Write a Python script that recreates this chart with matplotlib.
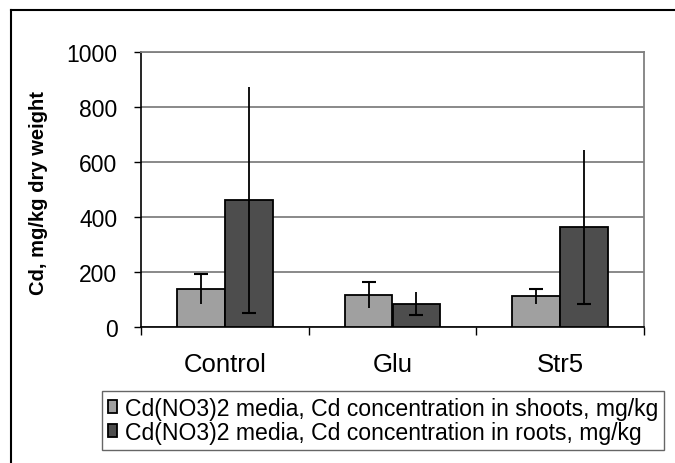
import matplotlib.pyplot as plt
import numpy as np
from matplotlib.lines import Line2D

plt.rcParams["font.family"] = ["Liberation Sans", "DejaVu Sans"]

categories = ["Control", "Glu", "Str5"]
shoots = np.array([140, 118, 112])
shoots_err = np.array([55, 48, 28])
roots = np.array([461, 86, 364])
roots_err = np.array([410, 42, 280])

labels = [
    "Cd(NO3)2 media, Cd concentration in shoots, mg/kg",
    "Cd(NO3)2 media, Cd concentration in roots, mg/kg",
]

fig = plt.figure(figsize=(6.75, 4.64), dpi=100)
ax = fig.add_axes([141 / 675, 1 - 328.3 / 464, 503 / 675, 275.6 / 464])

x = np.arange(len(categories))
w = 0.285
b1 = ax.bar(x - w / 2, shoots, w, color="#a0a0a0", edgecolor="black", linewidth=1.3, label=labels[0], zorder=3)
b2 = ax.bar(x + w / 2, roots, w, color="#4d4d4d", edgecolor="black", linewidth=1.3, label=labels[1], zorder=3)

# error bars: shoots capped on top, roots capped at bottom
ax.errorbar(x - w / 2, shoots, yerr=shoots_err, fmt="none", ecolor="black", elinewidth=1.3, capsize=0, zorder=4)
ax.plot(x - w / 2, shoots + shoots_err, ls="none", marker="_", ms=9.5, mew=1.5, color="black", zorder=4)
ax.errorbar(x + w / 2, roots, yerr=roots_err, fmt="none", ecolor="black", elinewidth=1.3, capsize=0, zorder=4)
ax.plot(x + w / 2, roots - roots_err, ls="none", marker="_", ms=9.5, mew=1.5, color="black", zorder=4)

ax.set_xlim(-0.5, 2.5)
ax.set_ylim(0, 1000)
ax.set_yticks(np.arange(0, 1001, 200))
ax.yaxis.grid(True, color="#808080", linewidth=1.3, zorder=0)
ax.set_axisbelow(True)

ax.set_xticks(x)
ax.set_xticklabels(categories, fontsize=18.5)
ax.set_xticks([-0.5, 0.5, 1.5, 2.5], minor=True)
ax.tick_params(axis="x", which="major", length=0, pad=18)
ax.tick_params(axis="x", which="minor", length=6, width=1, color="black", direction="out")
ax.tick_params(axis="y", length=5, width=1, pad=12, labelsize=16.5, direction="out")

for side in ["top", "right"]:
    ax.spines[side].set_color("#808080")
    ax.spines[side].set_linewidth(1.3)
ax.spines["left"].set_linewidth(1.2)
ax.spines["bottom"].set_linewidth(1.2)

fig.text(39 / 675, 1 - 193 / 464, "Cd, mg/kg dry weight", rotation=90, fontsize=14.5,
         fontweight="bold", ha="center", va="center")

leg = fig.legend(handles=[b1, b2], labels=labels, loc="upper left",
                 bbox_to_anchor=(102 / 675, 1 - 392 / 464), bbox_transform=fig.transFigure,
                 fontsize=16.6, frameon=True, fancybox=False, edgecolor="#404040",
                 handlelength=0.42, handleheight=0.48, handletextpad=0.33,
                 borderpad=0.25, labelspacing=0.05, borderaxespad=0)
leg.get_frame().set_linewidth(1.0)

# outer chart frame (left and top edges visible)
fig.add_artist(Line2D([11 / 675, 11 / 675], [0, 1 - 11 / 464], color="black", linewidth=1.5, transform=fig.transFigure))
fig.add_artist(Line2D([11 / 675, 1], [1 - 11 / 464, 1 - 11 / 464], color="black", linewidth=1.5, transform=fig.transFigure))

fig.savefig("out.png", dpi=100)
